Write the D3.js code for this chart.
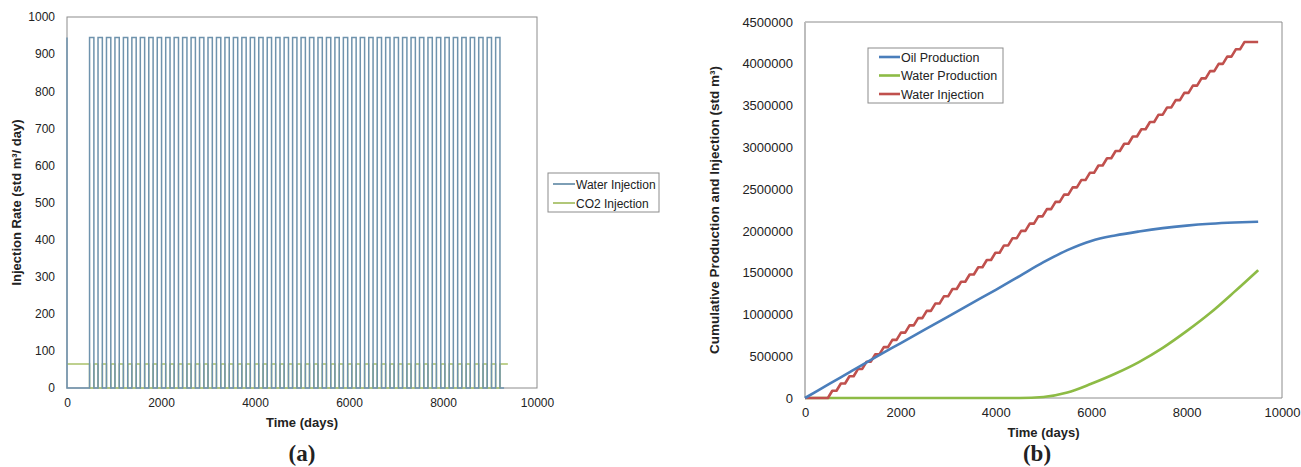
<!DOCTYPE html>
<html>
<head>
<meta charset="utf-8">
<script src="https://cdn.jsdelivr.net/npm/d3@7"></script>
<style>
  html, body { margin: 0; padding: 0; background: #fff; }
  svg { display: block; }
  text { font-family: "Liberation Sans", Arial, sans-serif; fill: #222; }
</style>
</head>
<body>
<svg id="fig" width="1301" height="467"></svg>
<script>
// ---- (a) WAG injection schedule ----
const waterRate = 945;   // std m3/day during water slugs
const co2Rate = 65;      // std m3/day during CO2 slugs
const waterOn = [480, 660, 840, 1020, 1200, 1380, 1560, 1740, 1920, 2100, 2280, 2460, 2640, 2820, 3000, 3180, 3360, 3540, 3720, 3900, 4080, 4260, 4440, 4620, 4800, 4980, 5160, 5340, 5520, 5700, 5880, 6060, 6240, 6420, 6600, 6780, 6960, 7140, 7320, 7500, 7680, 7860, 8040, 8220, 8400, 8580, 8760, 8940, 9120];
const waterOff = [572, 752, 932, 1112, 1292, 1472, 1652, 1832, 2012, 2192, 2372, 2552, 2732, 2912, 3092, 3272, 3452, 3632, 3812, 3992, 4172, 4352, 4532, 4712, 4892, 5072, 5252, 5432, 5612, 5792, 5972, 6152, 6332, 6512, 6692, 6872, 7052, 7232, 7412, 7592, 7772, 7952, 8132, 8312, 8492, 8672, 8852, 9032, 9212];
const waterEndDay = 9300;
const co2EndDay = 9380;
const rateTicks = [0, 100, 200, 300, 400, 500, 600, 700, 800, 900, 1000];
const timeTicks = [0, 2000, 4000, 6000, 8000, 10000];
const legendA = ["Water Injection", "CO2 Injection"];

// ---- (b) cumulative production / injection ----
const prodDays = [0, 500, 1000, 1500, 2000, 2500, 3000, 3500, 4000, 4500, 5000, 5500, 6000, 6500, 7000, 7500, 8000, 8500, 9000, 9500];
const oilCum = [0, 165000, 330000, 495000, 655000, 815000, 975000, 1135000, 1295000, 1460000, 1625000, 1770000, 1880000, 1945000, 1993000, 2033000, 2063000, 2085000, 2100000, 2110000];
const waterProdCum = [0, 0, 0, 0, 0, 0, 0, 0, 0, 0, 12000, 65000, 170000, 290000, 430000, 600000, 800000, 1020000, 1270000, 1530000];
const cumEndDay = 9500;
const cumTicks = [0, 500000, 1000000, 1500000, 2000000, 2500000, 3000000, 3500000, 4000000, 4500000];
const legendB = ["Oil Production", "Water Production", "Water Injection"];

const colors = {
  waterA: "#6f93ad", co2A: "#a9c16a",
  oil: "#4a7ebb", waterProd: "#8dbb45", waterInj: "#c0504d"
};
const plain = d3.format("d");

const svg = d3.select("#fig");

function styleTicks(axisG, size) {
  axisG.select(".domain").remove();
  axisG.selectAll("text").attr("font-size", size).attr("fill", "#333")
    .attr("font-family", "Liberation Sans, Arial, sans-serif");
}

// ================= Panel (a) =================
{
  const L = 67, R = 537, T = 17, B = 388;
  const x = d3.scaleLinear().domain([0, 10000]).range([L, R]);
  const y = d3.scaleLinear().domain([0, 1000]).range([B, T]);
  const g = svg.append("g");

  // plot-area frame
  g.append("rect").attr("x", L).attr("y", T).attr("width", R - L).attr("height", B - T)
    .attr("fill", "none").attr("stroke", "#8c8c8c").attr("stroke-width", 1);

  // water rate: brief start-up pulse, then alternating slugs
  const waterPts = [[0, waterRate], [0, 0]];
  waterOn.forEach((on, i) => {
    waterPts.push([on, 0], [on, waterRate], [waterOff[i], waterRate], [waterOff[i], 0]);
  });
  waterPts.push([waterEndDay, 0]);

  // CO2 rate: injected whenever water is off
  const co2Pts = [[0, co2Rate]];
  waterOn.forEach((on, i) => {
    co2Pts.push([on, co2Rate], [on, 0], [waterOff[i], 0], [waterOff[i], co2Rate]);
  });
  co2Pts.push([co2EndDay, co2Rate]);

  const line = d3.line().x(d => x(d[0])).y(d => y(d[1]));
  g.append("path").attr("d", line(co2Pts)).attr("fill", "none")
    .attr("stroke", colors.co2A).attr("stroke-width", 1.5);
  g.append("path").attr("d", line(waterPts)).attr("fill", "none")
    .attr("stroke", colors.waterA).attr("stroke-width", 1.5);

  styleTicks(g.append("g").attr("transform", `translate(${L},0)`)
    .call(d3.axisLeft(y).tickValues(rateTicks).tickFormat(plain).tickSize(0).tickPadding(12)), 12);
  styleTicks(g.append("g").attr("transform", `translate(0,${B})`)
    .call(d3.axisBottom(x).tickValues(timeTicks).tickFormat(plain).tickSize(0).tickPadding(10)), 12);

  g.append("text").attr("x", (L + R) / 2).attr("y", 427).attr("text-anchor", "middle")
    .attr("font-size", 13).attr("font-weight", "bold").text("Time (days)");
  g.append("text").attr("transform", `translate(21,${(T + B) / 2}) rotate(-90)`)
    .attr("text-anchor", "middle").attr("font-size", 13).attr("font-weight", "bold")
    .text("Injection Rate  (std m³/ day)");

  g.append("text").attr("x", 302).attr("y", 461).attr("text-anchor", "middle")
    .style("font-family", "'Liberation Serif', 'Times New Roman', serif")
    .attr("font-size", 23).attr("font-weight", "bold").text("(a)");

  // legend
  const lg = g.append("g");
  lg.append("rect").attr("x", 548).attr("y", 173).attr("width", 111).attr("height", 39)
    .attr("fill", "#fff").attr("stroke", "#8c8c8c");
  [colors.waterA, colors.co2A].forEach((c, i) => {
    const yy = 184 + i * 19;
    lg.append("line").attr("x1", 553).attr("x2", 575).attr("y1", yy).attr("y2", yy)
      .attr("stroke", c).attr("stroke-width", 1.8);
    lg.append("text").attr("x", 576).attr("y", yy + 4.5).attr("font-size", 12).text(legendA[i]);
  });
}

// ================= Panel (b) =================
{
  const L = 805, R = 1282, T = 22, B = 398;
  const x = d3.scaleLinear().domain([0, 10000]).range([L, R]);
  const y = d3.scaleLinear().domain([0, 4500000]).range([B, T]);
  const g = svg.append("g");

  // frame: light left axis, darker border elsewhere
  g.append("path").attr("d", `M${L},${T}H${R}V${B}H${L}`).attr("fill", "none")
    .attr("stroke", "#8c8c8c").attr("stroke-width", 1);
  g.append("line").attr("x1", L).attr("x2", L).attr("y1", T).attr("y2", B)
    .attr("stroke", "#bdbdbd").attr("stroke-width", 2);

  // cumulative water injected, accumulated from the slug schedule of panel (a)
  const injPts = [[0, 0]];
  let total = 0;
  waterOn.forEach((on, i) => {
    injPts.push([on, total]);
    total += (waterOff[i] - on) * waterRate;
    injPts.push([waterOff[i], total]);
  });
  injPts.push([cumEndDay, total]);

  const smooth = d3.line().curve(d3.curveMonotoneX).x(d => x(d[0])).y(d => y(d[1]));
  const straight = d3.line().x(d => x(d[0])).y(d => y(d[1]));

  g.append("path").attr("d", smooth(prodDays.map((d, i) => [d, waterProdCum[i]])))
    .attr("fill", "none").attr("stroke", colors.waterProd).attr("stroke-width", 2.6);
  g.append("path").attr("d", straight(injPts))
    .attr("fill", "none").attr("stroke", colors.waterInj).attr("stroke-width", 2.6)
    .attr("stroke-linejoin", "round");
  g.append("path").attr("d", smooth(prodDays.map((d, i) => [d, oilCum[i]])))
    .attr("fill", "none").attr("stroke", colors.oil).attr("stroke-width", 2.6);

  styleTicks(g.append("g").attr("transform", `translate(${L},0)`)
    .call(d3.axisLeft(y).tickValues(cumTicks).tickFormat(plain).tickSize(0).tickPadding(12)), 13);
  styleTicks(g.append("g").attr("transform", `translate(0,${B})`)
    .call(d3.axisBottom(x).tickValues(timeTicks).tickFormat(plain).tickSize(0).tickPadding(10)), 13);

  g.append("text").attr("x", (L + R) / 2).attr("y", 437).attr("text-anchor", "middle")
    .attr("font-size", 13).attr("font-weight", "bold").text("Time (days)");
  g.append("text").attr("transform", `translate(719,${(T + B) / 2}) rotate(-90)`)
    .attr("text-anchor", "middle").attr("font-size", 13.5).attr("font-weight", "bold")
    .text("Cumulative Production and Injection (std m³)");

  g.append("text").attr("x", 1037).attr("y", 461).attr("text-anchor", "middle")
    .style("font-family", "'Liberation Serif', 'Times New Roman', serif")
    .attr("font-size", 23).attr("font-weight", "bold").text("(b)");

  const lg = g.append("g");
  lg.append("rect").attr("x", 868).attr("y", 48).attr("width", 135).attr("height", 55)
    .attr("fill", "#fff").attr("stroke", "#8c8c8c");
  [colors.oil, colors.waterProd, colors.waterInj].forEach((c, i) => {
    const yy = 57 + i * 18.5;
    lg.append("line").attr("x1", 879).attr("x2", 900).attr("y1", yy).attr("y2", yy)
      .attr("stroke", c).attr("stroke-width", 2.6);
    lg.append("text").attr("x", 901).attr("y", yy + 4.5).attr("font-size", 12.5).text(legendB[i]);
  });
}
</script>
</body>
</html>
